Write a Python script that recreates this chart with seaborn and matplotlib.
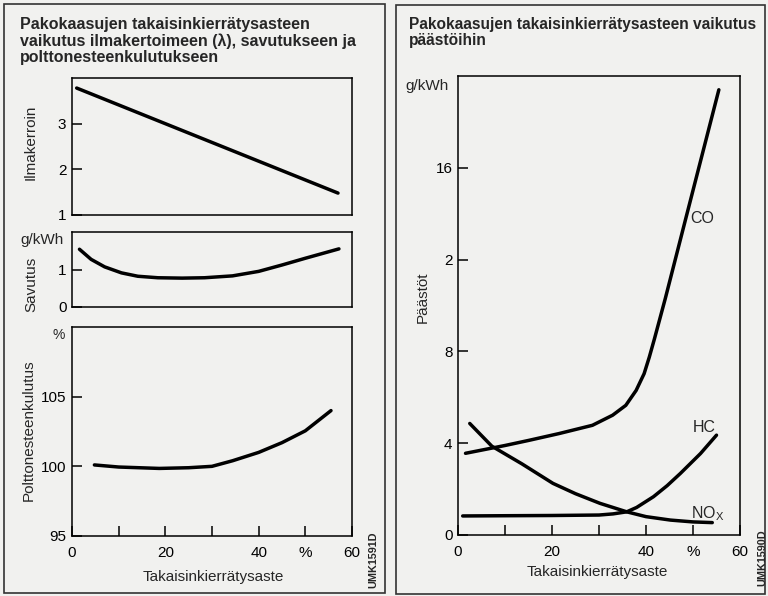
import matplotlib
matplotlib.use("Agg")
import matplotlib.pyplot as plt
import seaborn as sns
from matplotlib.patches import Rectangle

# ---------------- data ----------------
x_lambda = [1.0, 57.0]
lambda_vals = [3.78, 1.48]

x_smoke = [1.6, 4.1, 7, 10.6, 14.1, 18.4, 23.6, 28.4, 34.4, 40, 45, 50, 57.2]
smoke_vals = [1.54, 1.27, 1.07, 0.91, 0.82, 0.78, 0.77, 0.78, 0.83, 0.95, 1.12, 1.30, 1.55]

x_fuel = [4.8, 10, 18.7, 25, 30, 34.4, 40, 45, 50, 55.5]
fuel_vals = [100.1, 99.95, 99.85, 99.9, 100.0, 100.4, 101.0, 101.7, 102.55, 104.0]

x_co = [1.6, 10, 15, 21.5, 28.6, 32.9, 35.7, 37.9, 39.6, 40.7, 41.8, 44.1, 48.6, 55.5]
co_vals = [3.56, 3.9, 4.12, 4.42, 4.78, 5.22, 5.65, 6.3, 7.03, 7.75, 8.55, 10.3, 13.9, 19.4]

x_hc = [1.0, 10, 20, 30, 33, 35.9, 38, 41.6, 44.5, 47.3, 51.6, 55.0]
hc_vals = [0.83, 0.84, 0.85, 0.87, 0.92, 1.01, 1.2, 1.67, 2.15, 2.68, 3.55, 4.35]

x_nox = [2.5, 7.2, 13.6, 20.2, 25, 30.2, 35.9, 40, 45.2, 50, 54.1]
nox_vals = [4.86, 3.87, 3.1, 2.25, 1.8, 1.38, 1.01, 0.8, 0.65, 0.57, 0.54]

x_ticks = [0, 10, 20, 30, 40, 50, 60]
x_ticklabels = ["0", "", "20", "", "40", "%", "60"]

lam_ticks = [1, 2, 3]
smoke_ticks = [0, 1]
fuel_ticks = [95, 100, 105]
emis_ticks = [0, 4, 8, 12, 16]
emis_ticklabels = ["0", "4", "8", "2", "16"]

left_title = "Pakokaasujen takaisinkierrätysasteen\nvaikutus ilmakertoimeen (\u03bb), savutukseen ja\npolttonesteenkulutukseen"
right_title = "Pakokaasujen takaisinkierrätysasteen vaikutus\npäästöihin"
xlabel = "Takaisinkierrätysaste"

# ---------------- style ----------------
sns.set_theme(style="ticks")
plt.rcParams['font.family'] = ['Liberation Sans', 'DejaVu Sans']
plt.rcParams['mathtext.default'] = 'regular'
BG = '#f1f1ef'

W, H = 768, 596
fig = plt.figure(figsize=(W / 100, H / 100), dpi=100, facecolor=BG)


def ax_px(left, top, right, bottom):
    return fig.add_axes([left / W, 1 - bottom / H, (right - left) / W, (bottom - top) / H])


def fx(x):
    return x / W


def fy(y):
    return 1 - y / H


def style_ax(ax):
    ax.set_facecolor(BG)
    for s in ax.spines.values():
        s.set_visible(True)
        s.set_color('black')
        s.set_linewidth(1.1)
    ax.tick_params(direction='in', length=7, width=1.1, colors='black',
                   labelsize=11, pad=4)
    ax.set_xlabel("")
    ax.set_ylabel("")


LW = 2.5
line_kw = dict(color='black', linewidth=LW, sort=False, estimator=None,
               solid_joinstyle='round', solid_capstyle='round')

# frames
fig.patches.append(Rectangle((fx(4), fy(593)), fx(381), 589 / H, transform=fig.transFigure,
                             fill=False, edgecolor='#333333', linewidth=1.2))
fig.patches.append(Rectangle((fx(396), fy(594)), fx(369), 589 / H, transform=fig.transFigure,
                             fill=False, edgecolor='#333333', linewidth=1.2))

# ---------- ax1: lambda ----------
ax1 = ax_px(72, 78, 352, 215)
sns.lineplot(x=x_lambda, y=lambda_vals, ax=ax1, **line_kw)
ax1.set_xlim(0, 60)
ax1.set_ylim(1, 4)
style_ax(ax1)
ax1.set_yticks(lam_ticks)
ax1.set_xticks([])

# ---------- ax2: smoke ----------
ax2 = ax_px(72, 232, 352, 307)
sns.lineplot(x=x_smoke, y=smoke_vals, ax=ax2, **line_kw)
ax2.set_xlim(0, 60)
ax2.set_ylim(0, 2)
style_ax(ax2)
ax2.set_yticks(smoke_ticks)
ax2.set_xticks([])

# ---------- ax3: fuel ----------
ax3 = ax_px(72, 327, 352, 536)
sns.lineplot(x=x_fuel, y=fuel_vals, ax=ax3, **line_kw)
ax3.set_xlim(0, 60)
ax3.set_ylim(95, 110)
style_ax(ax3)
ax3.set_yticks(fuel_ticks)
ax3.set_xticks(x_ticks)
ax3.set_xticklabels(x_ticklabels)
ax3.tick_params(axis='x', pad=7)

# ---------- ax4: emissions ----------
ax4 = ax_px(458, 76, 740, 535)
for xs, ys in [(x_co, co_vals), (x_hc, hc_vals), (x_nox, nox_vals)]:
    sns.lineplot(x=xs, y=ys, ax=ax4, **line_kw)
ax4.set_xlim(0, 60)
ax4.set_ylim(0, 20)
style_ax(ax4)
ax4.set_yticks(emis_ticks)
ax4.set_yticklabels(emis_ticklabels)
ax4.set_xticks(x_ticks)
ax4.set_xticklabels(x_ticklabels)
ax4.tick_params(axis='x', pad=7)

ax4.text(52.0, 13.8, "CO", fontsize=11.5, ha='center', va='center')
ax4.text(52.4, 4.7, "HC", fontsize=11.5, ha='center', va='center')
ax4.text(53.2, 0.95, "NO$_{X}$", fontsize=11.5, ha='center', va='center')

# ---------- texts ----------
fig.text(fx(20), fy(17), left_title, fontsize=11.5, fontweight='bold', ha='left', va='top',
         linespacing=1.1)
fig.text(fx(409), fy(17), right_title, fontsize=11.2, fontweight='bold', ha='left', va='top',
         linespacing=1.12)

fig.text(fx(31), fy(142), "Ilmakerroin", rotation=90, fontsize=11, ha='center', va='center')
fig.text(fx(31), fy(284), "Savutus", rotation=90, fontsize=11, ha='center', va='center')
fig.text(fx(29), fy(430), "Polttonesteenkulutus", rotation=90, fontsize=11, ha='center', va='center')
fig.text(fx(423), fy(297), "Päästöt", rotation=90, fontsize=11, ha='center', va='center')

fig.text(fx(42), fy(240), "g/kWh", fontsize=11, ha='center', va='center')
fig.text(fx(427), fy(86), "g/kWh", fontsize=11, ha='center', va='center')
fig.text(fx(59), fy(335), "%", fontsize=10, ha='center', va='center')

fig.text(fx(213), fy(577), xlabel, fontsize=11, ha='center', va='center')
fig.text(fx(597), fy(572), xlabel, fontsize=11, ha='center', va='center')

fig.text(fx(373), fy(560), "UMK1591D", rotation=90, fontsize=7.8, fontweight='bold',
         ha='center', va='center')
fig.text(fx(762), fy(558), "UMK1590D", rotation=90, fontsize=7.8, fontweight='bold',
         ha='center', va='center')

fig.savefig("out.png", dpi=100, facecolor=BG)
